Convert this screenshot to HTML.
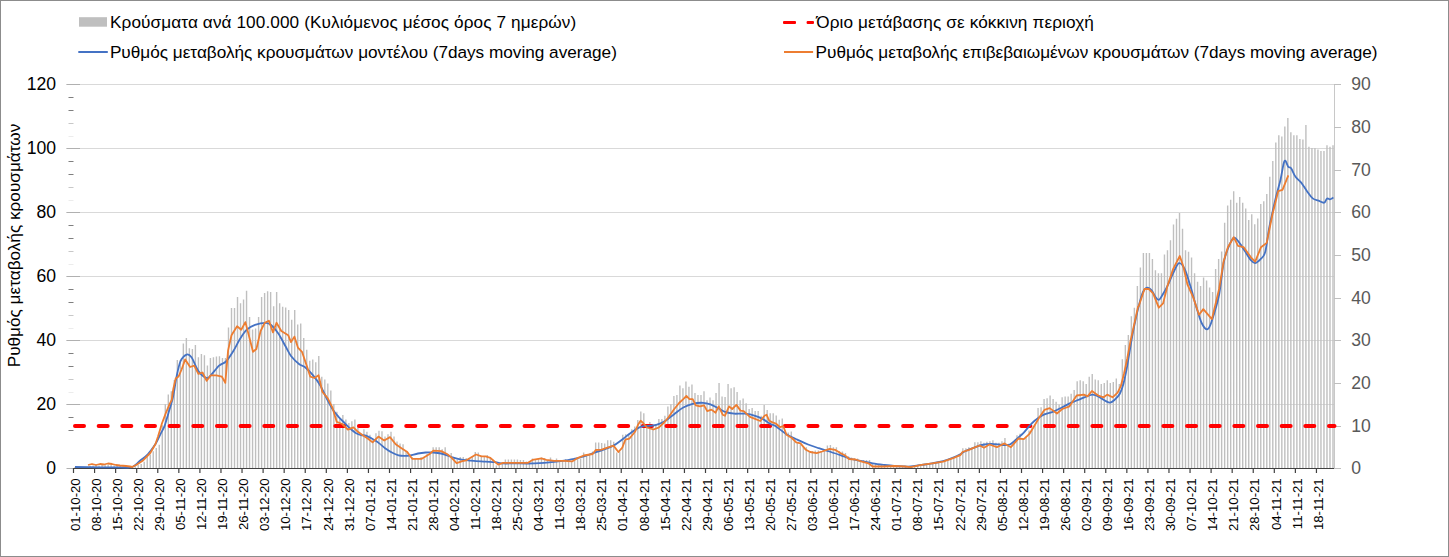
<!DOCTYPE html>
<html><head><meta charset="utf-8"><style>
html,body{margin:0;padding:0;background:#fff}
.frame{position:relative;width:1449px;height:557px;overflow:hidden;background:#fff;}
svg text{font-family:"Liberation Sans",sans-serif}
.t{font-size:17.6px}
.lg{font-size:17.2px;fill:#000}
.xl{font-size:13.2px;fill:#000}
</style></head><body><div class="frame">
<svg width="1449" height="557" viewBox="0 0 1449 557" style="position:absolute;left:0;top:0"><line x1="66.5" y1="404.5" x2="1334.5" y2="404.5" stroke="#d9d9d9" stroke-width="1"/><line x1="66.5" y1="340.5" x2="1334.5" y2="340.5" stroke="#d9d9d9" stroke-width="1"/><line x1="66.5" y1="276.5" x2="1334.5" y2="276.5" stroke="#d9d9d9" stroke-width="1"/><line x1="66.5" y1="212.5" x2="1334.5" y2="212.5" stroke="#d9d9d9" stroke-width="1"/><line x1="66.5" y1="148.5" x2="1334.5" y2="148.5" stroke="#d9d9d9" stroke-width="1"/><line x1="66.5" y1="84.5" x2="1334.5" y2="84.5" stroke="#d9d9d9" stroke-width="1"/><line x1="66.5" y1="468.5" x2="80" y2="468.5" stroke="#b0b0b0" stroke-width="1"/><line x1="66.5" y1="404.5" x2="80" y2="404.5" stroke="#b0b0b0" stroke-width="1"/><line x1="66.5" y1="340.5" x2="80" y2="340.5" stroke="#b0b0b0" stroke-width="1"/><line x1="66.5" y1="276.5" x2="80" y2="276.5" stroke="#b0b0b0" stroke-width="1"/><line x1="66.5" y1="212.5" x2="80" y2="212.5" stroke="#b0b0b0" stroke-width="1"/><line x1="66.5" y1="148.5" x2="80" y2="148.5" stroke="#b0b0b0" stroke-width="1"/><line x1="66.5" y1="84.5" x2="80" y2="84.5" stroke="#b0b0b0" stroke-width="1"/><line x1="68.5" y1="417.5" x2="73.5" y2="417.5" stroke="#7f7f7f" stroke-width="1"/><line x1="68.5" y1="430.5" x2="73.5" y2="430.5" stroke="#7f7f7f" stroke-width="1"/><line x1="68.5" y1="353.5" x2="73.5" y2="353.5" stroke="#7f7f7f" stroke-width="1"/><line x1="68.5" y1="366.5" x2="73.5" y2="366.5" stroke="#7f7f7f" stroke-width="1"/><line x1="68.5" y1="379.5" x2="73.5" y2="379.5" stroke="#c8c8c8" stroke-width="1"/><line x1="68.5" y1="392.5" x2="73.5" y2="392.5" stroke="#ececec" stroke-width="1"/><line x1="68.5" y1="289.5" x2="73.5" y2="289.5" stroke="#7f7f7f" stroke-width="1"/><line x1="68.5" y1="302.5" x2="73.5" y2="302.5" stroke="#7f7f7f" stroke-width="1"/><line x1="68.5" y1="315.5" x2="73.5" y2="315.5" stroke="#c8c8c8" stroke-width="1"/><line x1="68.5" y1="328.5" x2="73.5" y2="328.5" stroke="#ececec" stroke-width="1"/><line x1="68.5" y1="225.5" x2="73.5" y2="225.5" stroke="#7f7f7f" stroke-width="1"/><line x1="68.5" y1="238.5" x2="73.5" y2="238.5" stroke="#7f7f7f" stroke-width="1"/><line x1="68.5" y1="251.5" x2="73.5" y2="251.5" stroke="#c8c8c8" stroke-width="1"/><line x1="68.5" y1="264.5" x2="73.5" y2="264.5" stroke="#ececec" stroke-width="1"/><line x1="68.5" y1="161.5" x2="73.5" y2="161.5" stroke="#7f7f7f" stroke-width="1"/><line x1="68.5" y1="174.5" x2="73.5" y2="174.5" stroke="#7f7f7f" stroke-width="1"/><line x1="68.5" y1="187.5" x2="73.5" y2="187.5" stroke="#c8c8c8" stroke-width="1"/><line x1="68.5" y1="200.5" x2="73.5" y2="200.5" stroke="#ececec" stroke-width="1"/><line x1="68.5" y1="97.5" x2="73.5" y2="97.5" stroke="#7f7f7f" stroke-width="1"/><line x1="68.5" y1="110.5" x2="73.5" y2="110.5" stroke="#7f7f7f" stroke-width="1"/><line x1="68.5" y1="123.5" x2="73.5" y2="123.5" stroke="#c8c8c8" stroke-width="1"/><line x1="68.5" y1="136.5" x2="73.5" y2="136.5" stroke="#ececec" stroke-width="1"/><path d="M74.30 467.0H75.70V468.3H74.30ZM77.31 467.0H78.71V468.3H77.31ZM80.32 467.0H81.72V468.3H80.32ZM83.33 467.0H84.73V468.3H83.33ZM86.34 467.0H87.74V468.3H86.34ZM89.35 466.0H90.75V468.3H89.35ZM92.36 465.5H93.76V468.3H92.36ZM95.37 465.0H96.77V468.3H95.37ZM98.38 465.5H99.78V468.3H98.38ZM101.39 464.5H102.79V468.3H101.39ZM104.40 465.0H105.80V468.3H104.40ZM107.41 464.5H108.81V468.3H107.41ZM110.42 465.0H111.82V468.3H110.42ZM113.43 465.5H114.83V468.3H113.43ZM116.44 466.0H117.84V468.3H116.44ZM119.45 466.0H120.85V468.3H119.45ZM122.46 466.5H123.86V468.3H122.46ZM125.47 466.5H126.87V468.3H125.47ZM128.48 467.0H129.88V468.3H128.48ZM131.49 466.5H132.89V468.3H131.49ZM134.50 466.0H135.90V468.3H134.50ZM137.51 465.0H138.91V468.3H137.51ZM140.51 464.1H141.91V468.3H140.51ZM143.52 461.7H144.92V468.3H143.52ZM146.53 456.9H147.93V468.3H146.53ZM149.54 454.4H150.94V468.3H149.54ZM152.55 451.2H153.95V468.3H152.55ZM155.56 448.0H156.96V468.3H155.56ZM158.57 444.7H159.97V468.3H158.57ZM161.58 425.3H162.98V468.3H161.58ZM164.59 404.3H165.99V468.3H164.59ZM167.60 394.6H169.00V468.3H167.60ZM170.61 391.3H172.01V468.3H170.61ZM173.62 380.0H175.02V468.3H173.62ZM176.63 360.0H178.03V468.3H176.63ZM179.64 360.0H181.04V468.3H179.64ZM182.65 343.5H184.05V468.3H182.65ZM185.66 338.0H187.06V468.3H185.66ZM188.67 348.3H190.07V468.3H188.67ZM191.68 349.0H193.08V468.3H191.68ZM194.69 344.9H196.09V468.3H194.69ZM197.70 357.3H199.10V468.3H197.70ZM200.71 353.9H202.11V468.3H200.71ZM203.72 355.2H205.12V468.3H203.72ZM206.72 365.6H208.12V468.3H206.72ZM209.73 358.0H211.13V468.3H209.73ZM212.74 357.3H214.14V468.3H212.74ZM215.75 356.6H217.15V468.3H215.75ZM218.76 356.2H220.16V468.3H218.76ZM221.77 358.0H223.17V468.3H221.77ZM224.78 358.0H226.18V468.3H224.78ZM227.79 327.5H229.19V468.3H227.79ZM230.80 308.1H232.20V468.3H230.80ZM233.81 308.1H235.21V468.3H233.81ZM236.82 297.0H238.22V468.3H236.82ZM239.83 303.3H241.23V468.3H239.83ZM242.84 299.4H244.24V468.3H242.84ZM245.85 290.7H247.25V468.3H245.85ZM248.86 316.9H250.26V468.3H248.86ZM251.87 329.5H253.27V468.3H251.87ZM254.88 328.5H256.28V468.3H254.88ZM257.89 316.9H259.29V468.3H257.89ZM260.90 297.0H262.30V468.3H260.90ZM263.91 293.1H265.31V468.3H263.91ZM266.92 291.2H268.32V468.3H266.92ZM269.93 292.1H271.33V468.3H269.93ZM272.93 306.2H274.33V468.3H272.93ZM275.94 292.1H277.34V468.3H275.94ZM278.95 303.3H280.35V468.3H278.95ZM281.96 306.7H283.36V468.3H281.96ZM284.97 307.6H286.37V468.3H284.97ZM287.98 310.1H289.38V468.3H287.98ZM290.99 319.8H292.39V468.3H290.99ZM294.00 310.1H295.40V468.3H294.00ZM297.01 324.6H298.41V468.3H297.01ZM300.02 323.6H301.42V468.3H300.02ZM303.03 338.0H304.43V468.3H303.03ZM306.04 349.7H307.44V468.3H306.04ZM309.05 360.8H310.45V468.3H309.05ZM312.06 359.4H313.46V468.3H312.06ZM315.07 362.2H316.47V468.3H315.07ZM318.08 355.9H319.48V468.3H318.08ZM321.09 376.7H322.49V468.3H321.09ZM324.10 379.5H325.50V468.3H324.10ZM327.11 383.4H328.51V468.3H327.11ZM330.12 390.6H331.52V468.3H330.12ZM333.13 404.0H334.53V468.3H333.13ZM336.14 411.7H337.54V468.3H336.14ZM339.14 418.4H340.54V468.3H339.14ZM342.15 415.1H343.55V468.3H342.15ZM345.16 419.5H346.56V468.3H345.16ZM348.17 422.9H349.57V468.3H348.17ZM351.18 421.2H352.58V468.3H351.18ZM354.19 419.5H355.59V468.3H354.19ZM357.20 427.3H358.60V468.3H357.20ZM360.21 433.7H361.61V468.3H360.21ZM363.22 429.3H364.62V468.3H363.22ZM366.23 431.8H367.63V468.3H366.23ZM369.24 434.7H370.64V468.3H369.24ZM372.25 439.5H373.65V468.3H372.25ZM375.26 433.2H376.66V468.3H375.26ZM378.27 430.8H379.67V468.3H378.27ZM381.28 431.3H382.68V468.3H381.28ZM384.29 436.6H385.69V468.3H384.29ZM387.30 434.2H388.70V468.3H387.30ZM390.31 431.8H391.71V468.3H390.31ZM393.32 436.6H394.72V468.3H393.32ZM396.33 441.4H397.73V468.3H396.33ZM399.34 443.4H400.74V468.3H399.34ZM402.35 444.3H403.75V468.3H402.35ZM405.35 451.1H406.75V468.3H405.35ZM408.36 454.0H409.76V468.3H408.36ZM411.37 456.9H412.77V468.3H411.37ZM414.38 458.3H415.78V468.3H414.38ZM417.39 458.3H418.79V468.3H417.39ZM420.40 456.9H421.80V468.3H420.40ZM423.41 458.3H424.81V468.3H423.41ZM426.42 454.0H427.82V468.3H426.42ZM429.43 453.5H430.83V468.3H429.43ZM432.44 447.2H433.84V468.3H432.44ZM435.45 447.2H436.85V468.3H435.45ZM438.46 447.2H439.86V468.3H438.46ZM441.47 449.2H442.87V468.3H441.47ZM444.48 447.2H445.88V468.3H444.48ZM447.49 454.0H448.89V468.3H447.49ZM450.50 453.0H451.90V468.3H450.50ZM453.51 456.9H454.91V468.3H453.51ZM456.52 459.8H457.92V468.3H456.52ZM459.53 456.9H460.93V468.3H459.53ZM462.54 456.9H463.94V468.3H462.54ZM465.55 457.9H466.95V468.3H465.55ZM468.56 458.8H469.96V468.3H468.56ZM471.56 456.9H472.96V468.3H471.56ZM474.57 452.0H475.97V468.3H474.57ZM477.58 452.5H478.98V468.3H477.58ZM480.59 455.9H481.99V468.3H480.59ZM483.60 456.9H485.00V468.3H483.60ZM486.61 455.0H488.01V468.3H486.61ZM489.62 456.9H491.02V468.3H489.62ZM492.63 459.8H494.03V468.3H492.63ZM495.64 465.4H497.04V468.3H495.64ZM498.65 463.4H500.05V468.3H498.65ZM501.66 463.4H503.06V468.3H501.66ZM504.67 459.4H506.07V468.3H504.67ZM507.68 459.4H509.08V468.3H507.68ZM510.69 459.4H512.09V468.3H510.69ZM513.70 459.4H515.10V468.3H513.70ZM516.71 459.4H518.11V468.3H516.71ZM519.72 459.9H521.12V468.3H519.72ZM522.73 459.9H524.13V468.3H522.73ZM525.74 461.4H527.14V468.3H525.74ZM528.75 461.4H530.15V468.3H528.75ZM531.76 458.4H533.16V468.3H531.76ZM534.77 459.4H536.17V468.3H534.77ZM537.77 458.4H539.17V468.3H537.77ZM540.78 457.4H542.18V468.3H540.78ZM543.79 457.9H545.19V468.3H543.79ZM546.80 459.9H548.20V468.3H546.80ZM549.81 457.4H551.21V468.3H549.81ZM552.82 459.9H554.22V468.3H552.82ZM555.83 458.4H557.23V468.3H555.83ZM558.84 461.4H560.24V468.3H558.84ZM561.85 460.9H563.25V468.3H561.85ZM564.86 458.9H566.26V468.3H564.86ZM567.87 460.4H569.27V468.3H567.87ZM570.88 461.4H572.28V468.3H570.88ZM573.89 459.9H575.29V468.3H573.89ZM576.90 458.4H578.30V468.3H576.90ZM579.91 458.4H581.31V468.3H579.91ZM582.92 452.5H584.32V468.3H582.92ZM585.93 455.0H587.33V468.3H585.93ZM588.94 454.0H590.34V468.3H588.94ZM591.95 451.5H593.35V468.3H591.95ZM594.96 442.6H596.36V468.3H594.96ZM597.97 442.6H599.37V468.3H597.97ZM600.98 443.1H602.38V468.3H600.98ZM603.98 443.6H605.38V468.3H603.98ZM606.99 440.2H608.39V468.3H606.99ZM610.00 440.2H611.40V468.3H610.00ZM613.01 441.7H614.41V468.3H613.01ZM616.02 452.5H617.42V468.3H616.02ZM619.03 451.5H620.43V468.3H619.03ZM622.04 434.7H623.44V468.3H622.04ZM625.05 434.2H626.45V468.3H625.05ZM628.06 433.8H629.46V468.3H628.06ZM631.07 429.3H632.47V468.3H631.07ZM634.08 426.4H635.48V468.3H634.08ZM637.09 420.0H638.49V468.3H637.09ZM640.10 411.6H641.50V468.3H640.10ZM643.11 413.2H644.51V468.3H643.11ZM646.12 425.0H647.52V468.3H646.12ZM649.13 422.0H650.53V468.3H649.13ZM652.14 426.2H653.54V468.3H652.14ZM655.15 424.1H656.55V468.3H655.15ZM658.16 418.9H659.56V468.3H658.16ZM661.17 418.9H662.57V468.3H661.17ZM664.18 415.8H665.58V468.3H664.18ZM667.19 406.4H668.59V468.3H667.19ZM670.19 404.3H671.59V468.3H670.19ZM673.20 396.0H674.60V468.3H673.20ZM676.21 395.0H677.61V468.3H676.21ZM679.22 385.6H680.62V468.3H679.22ZM682.23 388.2H683.63V468.3H682.23ZM685.24 381.5H686.64V468.3H685.24ZM688.25 386.7H689.65V468.3H688.25ZM691.26 384.6H692.66V468.3H691.26ZM694.27 392.9H695.67V468.3H694.27ZM697.28 395.0H698.68V468.3H697.28ZM700.29 395.0H701.69V468.3H700.29ZM703.30 391.3H704.70V468.3H703.30ZM706.31 400.2H707.71V468.3H706.31ZM709.32 397.6H710.72V468.3H709.32ZM712.33 400.2H713.73V468.3H712.33ZM715.34 392.9H716.74V468.3H715.34ZM718.35 383.0H719.75V468.3H718.35ZM721.36 396.5H722.76V468.3H721.36ZM724.37 397.1H725.77V468.3H724.37ZM727.38 384.1H728.78V468.3H727.38ZM730.39 388.2H731.79V468.3H730.39ZM733.40 387.2H734.80V468.3H733.40ZM736.41 391.9H737.81V468.3H736.41ZM739.41 400.2H740.81V468.3H739.41ZM742.42 398.6H743.82V468.3H742.42ZM745.43 403.3H746.83V468.3H745.43ZM748.44 409.0H749.84V468.3H748.44ZM751.45 408.0H752.85V468.3H751.45ZM754.46 411.1H755.86V468.3H754.46ZM757.47 411.1H758.87V468.3H757.47ZM760.48 415.8H761.88V468.3H760.48ZM763.49 404.9H764.89V468.3H763.49ZM766.50 410.0H767.90V468.3H766.50ZM769.51 413.2H770.91V468.3H769.51ZM772.52 413.2H773.92V468.3H772.52ZM775.53 415.4H776.93V468.3H775.53ZM778.54 419.7H779.94V468.3H778.54ZM781.55 418.6H782.95V468.3H781.55ZM784.56 430.5H785.96V468.3H784.56ZM787.57 432.6H788.97V468.3H787.57ZM790.58 431.5H791.98V468.3H790.58ZM793.59 439.1H794.99V468.3H793.59ZM796.60 442.3H798.00V468.3H796.60ZM799.61 444.5H801.01V468.3H799.61ZM802.62 446.6H804.02V468.3H802.62ZM805.62 447.2H807.02V468.3H805.62ZM808.63 450.9H810.03V468.3H808.63ZM811.64 450.9H813.04V468.3H811.64ZM814.65 450.4H816.05V468.3H814.65ZM817.66 450.4H819.06V468.3H817.66ZM820.67 450.9H822.07V468.3H820.67ZM823.68 450.4H825.08V468.3H823.68ZM826.69 445.5H828.09V468.3H826.69ZM829.70 445.0H831.10V468.3H829.70ZM832.71 447.2H834.11V468.3H832.71ZM835.72 447.2H837.12V468.3H835.72ZM838.73 450.9H840.13V468.3H838.73ZM841.74 451.5H843.14V468.3H841.74ZM844.75 453.1H846.15V468.3H844.75ZM847.76 456.3H849.16V468.3H847.76ZM850.77 457.4H852.17V468.3H850.77ZM853.78 457.9H855.18V468.3H853.78ZM856.79 458.5H858.19V468.3H856.79ZM859.80 460.1H861.20V468.3H859.80ZM862.81 460.1H864.21V468.3H862.81ZM865.82 460.1H867.22V468.3H865.82ZM868.83 460.1H870.23V468.3H868.83ZM871.83 463.8H873.23V468.3H871.83ZM874.84 463.8H876.24V468.3H874.84ZM877.85 464.5H879.25V468.3H877.85ZM880.86 465.0H882.26V468.3H880.86ZM883.87 465.0H885.27V468.3H883.87ZM886.88 465.5H888.28V468.3H886.88ZM889.89 465.5H891.29V468.3H889.89ZM892.90 466.0H894.30V468.3H892.90ZM895.91 465.5H897.31V468.3H895.91ZM898.92 466.0H900.32V468.3H898.92ZM901.93 466.0H903.33V468.3H901.93ZM904.94 466.0H906.34V468.3H904.94ZM907.95 466.0H909.35V468.3H907.95ZM910.96 466.0H912.36V468.3H910.96ZM913.97 466.0H915.37V468.3H913.97ZM916.98 466.0H918.38V468.3H916.98ZM919.99 464.9H921.39V468.3H919.99ZM923.00 464.4H924.40V468.3H923.00ZM926.01 463.3H927.41V468.3H926.01ZM929.02 463.3H930.42V468.3H929.02ZM932.03 462.8H933.43V468.3H932.03ZM935.04 462.8H936.44V468.3H935.04ZM938.04 462.2H939.44V468.3H938.04ZM941.05 462.8H942.45V468.3H941.05ZM944.06 461.2H945.46V468.3H944.06ZM947.07 459.5H948.47V468.3H947.07ZM950.08 459.5H951.48V468.3H950.08ZM953.09 458.5H954.49V468.3H953.09ZM956.10 457.4H957.50V468.3H956.10ZM959.11 455.8H960.51V468.3H959.11ZM962.12 448.2H963.52V468.3H962.12ZM965.13 448.2H966.53V468.3H965.13ZM968.14 447.2H969.54V468.3H968.14ZM971.15 447.7H972.55V468.3H971.15ZM974.16 442.3H975.56V468.3H974.16ZM977.17 442.3H978.57V468.3H977.17ZM980.18 441.2H981.58V468.3H980.18ZM983.19 442.8H984.59V468.3H983.19ZM986.20 441.8H987.60V468.3H986.20ZM989.21 441.2H990.61V468.3H989.21ZM992.22 440.2H993.62V468.3H992.22ZM995.23 442.8H996.63V468.3H995.23ZM998.24 442.8H999.64V468.3H998.24ZM1001.25 441.2H1002.65V468.3H1001.25ZM1004.25 438.0H1005.65V468.3H1004.25ZM1007.26 444.5H1008.66V468.3H1007.26ZM1010.27 445.5H1011.67V468.3H1010.27ZM1013.28 442.3H1014.68V468.3H1013.28ZM1016.29 435.3H1017.69V468.3H1016.29ZM1019.30 433.7H1020.70V468.3H1019.30ZM1022.31 438.0H1023.71V468.3H1022.31ZM1025.32 436.4H1026.72V468.3H1025.32ZM1028.33 430.5H1029.73V468.3H1028.33ZM1031.34 428.3H1032.74V468.3H1031.34ZM1034.35 424.0H1035.75V468.3H1034.35ZM1037.36 408.1H1038.76V468.3H1037.36ZM1040.37 407.2H1041.77V468.3H1040.37ZM1043.38 399.1H1044.78V468.3H1043.38ZM1046.39 398.2H1047.79V468.3H1046.39ZM1049.40 395.5H1050.80V468.3H1049.40ZM1052.41 399.1H1053.81V468.3H1052.41ZM1055.42 401.8H1056.82V468.3H1055.42ZM1058.43 404.5H1059.83V468.3H1058.43ZM1061.44 397.3H1062.84V468.3H1061.44ZM1064.45 396.4H1065.85V468.3H1064.45ZM1067.46 396.4H1068.86V468.3H1067.46ZM1070.46 393.7H1071.86V468.3H1070.46ZM1073.47 390.1H1074.87V468.3H1073.47ZM1076.48 381.2H1077.88V468.3H1076.48ZM1079.49 380.3H1080.89V468.3H1079.49ZM1082.50 381.2H1083.90V468.3H1082.50ZM1085.51 383.9H1086.91V468.3H1085.51ZM1088.52 376.7H1089.92V468.3H1088.52ZM1091.53 374.0H1092.93V468.3H1091.53ZM1094.54 379.4H1095.94V468.3H1094.54ZM1097.55 380.3H1098.95V468.3H1097.55ZM1100.56 383.9H1101.96V468.3H1100.56ZM1103.57 383.0H1104.97V468.3H1103.57ZM1106.58 380.3H1107.98V468.3H1106.58ZM1109.59 383.0H1110.99V468.3H1109.59ZM1112.60 382.1H1114.00V468.3H1112.60ZM1115.61 378.5H1117.01V468.3H1115.61ZM1118.62 383.9H1120.02V468.3H1118.62ZM1121.63 359.3H1123.03V468.3H1121.63ZM1124.64 345.0H1126.04V468.3H1124.64ZM1127.65 335.0H1129.05V468.3H1127.65ZM1130.66 316.3H1132.06V468.3H1130.66ZM1133.67 307.7H1135.07V468.3H1133.67ZM1136.67 286.1H1138.07V468.3H1136.67ZM1139.68 267.5H1141.08V468.3H1139.68ZM1142.69 253.1H1144.09V468.3H1142.69ZM1145.70 253.1H1147.10V468.3H1145.70ZM1148.71 253.1H1150.11V468.3H1148.71ZM1151.72 258.9H1153.12V468.3H1151.72ZM1154.73 270.3H1156.13V468.3H1154.73ZM1157.74 273.2H1159.14V468.3H1157.74ZM1160.75 273.2H1162.15V468.3H1160.75ZM1163.76 254.6H1165.16V468.3H1163.76ZM1166.77 250.2H1168.17V468.3H1166.77ZM1169.78 240.2H1171.18V468.3H1169.78ZM1172.79 224.4H1174.19V468.3H1172.79ZM1175.80 218.7H1177.20V468.3H1175.80ZM1178.81 212.9H1180.21V468.3H1178.81ZM1181.82 228.7H1183.22V468.3H1181.82ZM1184.83 250.2H1186.23V468.3H1184.83ZM1187.84 251.7H1189.24V468.3H1187.84ZM1190.85 257.4H1192.25V468.3H1190.85ZM1193.86 273.2H1195.26V468.3H1193.86ZM1196.87 281.8H1198.27V468.3H1196.87ZM1199.88 286.1H1201.28V468.3H1199.88ZM1202.88 277.5H1204.28V468.3H1202.88ZM1205.89 280.4H1207.29V468.3H1205.89ZM1208.90 287.6H1210.30V468.3H1208.90ZM1211.91 291.9H1213.31V468.3H1211.91ZM1214.92 268.9H1216.32V468.3H1214.92ZM1217.93 258.9H1219.33V468.3H1217.93ZM1220.94 251.6H1222.34V468.3H1220.94ZM1223.95 222.8H1225.35V468.3H1223.95ZM1226.96 205.6H1228.36V468.3H1226.96ZM1229.97 199.8H1231.37V468.3H1229.97ZM1232.98 191.2H1234.38V468.3H1232.98ZM1235.99 202.7H1237.39V468.3H1235.99ZM1239.00 197.0H1240.40V468.3H1239.00ZM1242.01 202.7H1243.41V468.3H1242.01ZM1245.02 208.4H1246.42V468.3H1245.02ZM1248.03 219.9H1249.43V468.3H1248.03ZM1251.04 214.2H1252.44V468.3H1251.04ZM1254.05 224.3H1255.45V468.3H1254.05ZM1257.06 218.5H1258.46V468.3H1257.06ZM1260.07 204.1H1261.47V468.3H1260.07ZM1263.08 201.3H1264.48V468.3H1263.08ZM1266.09 194.1H1267.49V468.3H1266.09ZM1269.09 176.8H1270.49V468.3H1269.09ZM1272.10 161.0H1273.50V468.3H1272.10ZM1275.11 142.4H1276.51V468.3H1275.11ZM1278.12 135.2H1279.52V468.3H1278.12ZM1281.13 136.6H1282.53V468.3H1281.13ZM1284.14 126.6H1285.54V468.3H1284.14ZM1287.15 117.9H1288.55V468.3H1287.15ZM1290.16 132.3H1291.56V468.3H1290.16ZM1293.17 135.2H1294.57V468.3H1293.17ZM1296.18 135.2H1297.58V468.3H1296.18ZM1299.19 138.9H1300.59V468.3H1299.19ZM1302.20 139.5H1303.60V468.3H1302.20ZM1305.21 125.1H1306.61V468.3H1305.21ZM1308.22 146.7H1309.62V468.3H1308.22ZM1311.23 148.1H1312.63V468.3H1311.23ZM1314.24 148.1H1315.64V468.3H1314.24ZM1317.25 149.5H1318.65V468.3H1317.25ZM1320.26 151.0H1321.66V468.3H1320.26ZM1323.27 151.0H1324.67V468.3H1323.27ZM1326.28 145.2H1327.68V468.3H1326.28ZM1329.29 146.7H1330.69V468.3H1329.29ZM1332.30 145.2H1333.70V468.3H1332.30Z" fill="#bfbfbf"/><line x1="73.5" y1="468.5" x2="1334.5" y2="468.5" stroke="#404040" stroke-width="1"/><line x1="73.50" y1="468" x2="73.50" y2="473" stroke="#404040" stroke-width="1.2"/><line x1="94.57" y1="468" x2="94.57" y2="473" stroke="#404040" stroke-width="1.2"/><line x1="115.63" y1="468" x2="115.63" y2="473" stroke="#404040" stroke-width="1.2"/><line x1="136.70" y1="468" x2="136.70" y2="473" stroke="#404040" stroke-width="1.2"/><line x1="157.77" y1="468" x2="157.77" y2="473" stroke="#404040" stroke-width="1.2"/><line x1="178.83" y1="468" x2="178.83" y2="473" stroke="#404040" stroke-width="1.2"/><line x1="199.90" y1="468" x2="199.90" y2="473" stroke="#404040" stroke-width="1.2"/><line x1="220.97" y1="468" x2="220.97" y2="473" stroke="#404040" stroke-width="1.2"/><line x1="242.03" y1="468" x2="242.03" y2="473" stroke="#404040" stroke-width="1.2"/><line x1="263.10" y1="468" x2="263.10" y2="473" stroke="#404040" stroke-width="1.2"/><line x1="284.17" y1="468" x2="284.17" y2="473" stroke="#404040" stroke-width="1.2"/><line x1="305.24" y1="468" x2="305.24" y2="473" stroke="#404040" stroke-width="1.2"/><line x1="326.30" y1="468" x2="326.30" y2="473" stroke="#404040" stroke-width="1.2"/><line x1="347.37" y1="468" x2="347.37" y2="473" stroke="#404040" stroke-width="1.2"/><line x1="368.44" y1="468" x2="368.44" y2="473" stroke="#404040" stroke-width="1.2"/><line x1="389.50" y1="468" x2="389.50" y2="473" stroke="#404040" stroke-width="1.2"/><line x1="410.57" y1="468" x2="410.57" y2="473" stroke="#404040" stroke-width="1.2"/><line x1="431.64" y1="468" x2="431.64" y2="473" stroke="#404040" stroke-width="1.2"/><line x1="452.70" y1="468" x2="452.70" y2="473" stroke="#404040" stroke-width="1.2"/><line x1="473.77" y1="468" x2="473.77" y2="473" stroke="#404040" stroke-width="1.2"/><line x1="494.84" y1="468" x2="494.84" y2="473" stroke="#404040" stroke-width="1.2"/><line x1="515.90" y1="468" x2="515.90" y2="473" stroke="#404040" stroke-width="1.2"/><line x1="536.97" y1="468" x2="536.97" y2="473" stroke="#404040" stroke-width="1.2"/><line x1="558.04" y1="468" x2="558.04" y2="473" stroke="#404040" stroke-width="1.2"/><line x1="579.10" y1="468" x2="579.10" y2="473" stroke="#404040" stroke-width="1.2"/><line x1="600.17" y1="468" x2="600.17" y2="473" stroke="#404040" stroke-width="1.2"/><line x1="621.24" y1="468" x2="621.24" y2="473" stroke="#404040" stroke-width="1.2"/><line x1="642.30" y1="468" x2="642.30" y2="473" stroke="#404040" stroke-width="1.2"/><line x1="663.37" y1="468" x2="663.37" y2="473" stroke="#404040" stroke-width="1.2"/><line x1="684.44" y1="468" x2="684.44" y2="473" stroke="#404040" stroke-width="1.2"/><line x1="705.50" y1="468" x2="705.50" y2="473" stroke="#404040" stroke-width="1.2"/><line x1="726.57" y1="468" x2="726.57" y2="473" stroke="#404040" stroke-width="1.2"/><line x1="747.64" y1="468" x2="747.64" y2="473" stroke="#404040" stroke-width="1.2"/><line x1="768.71" y1="468" x2="768.71" y2="473" stroke="#404040" stroke-width="1.2"/><line x1="789.77" y1="468" x2="789.77" y2="473" stroke="#404040" stroke-width="1.2"/><line x1="810.84" y1="468" x2="810.84" y2="473" stroke="#404040" stroke-width="1.2"/><line x1="831.91" y1="468" x2="831.91" y2="473" stroke="#404040" stroke-width="1.2"/><line x1="852.97" y1="468" x2="852.97" y2="473" stroke="#404040" stroke-width="1.2"/><line x1="874.04" y1="468" x2="874.04" y2="473" stroke="#404040" stroke-width="1.2"/><line x1="895.11" y1="468" x2="895.11" y2="473" stroke="#404040" stroke-width="1.2"/><line x1="916.17" y1="468" x2="916.17" y2="473" stroke="#404040" stroke-width="1.2"/><line x1="937.24" y1="468" x2="937.24" y2="473" stroke="#404040" stroke-width="1.2"/><line x1="958.31" y1="468" x2="958.31" y2="473" stroke="#404040" stroke-width="1.2"/><line x1="979.37" y1="468" x2="979.37" y2="473" stroke="#404040" stroke-width="1.2"/><line x1="1000.44" y1="468" x2="1000.44" y2="473" stroke="#404040" stroke-width="1.2"/><line x1="1021.51" y1="468" x2="1021.51" y2="473" stroke="#404040" stroke-width="1.2"/><line x1="1042.57" y1="468" x2="1042.57" y2="473" stroke="#404040" stroke-width="1.2"/><line x1="1063.64" y1="468" x2="1063.64" y2="473" stroke="#404040" stroke-width="1.2"/><line x1="1084.71" y1="468" x2="1084.71" y2="473" stroke="#404040" stroke-width="1.2"/><line x1="1105.77" y1="468" x2="1105.77" y2="473" stroke="#404040" stroke-width="1.2"/><line x1="1126.84" y1="468" x2="1126.84" y2="473" stroke="#404040" stroke-width="1.2"/><line x1="1147.91" y1="468" x2="1147.91" y2="473" stroke="#404040" stroke-width="1.2"/><line x1="1168.97" y1="468" x2="1168.97" y2="473" stroke="#404040" stroke-width="1.2"/><line x1="1190.04" y1="468" x2="1190.04" y2="473" stroke="#404040" stroke-width="1.2"/><line x1="1211.11" y1="468" x2="1211.11" y2="473" stroke="#404040" stroke-width="1.2"/><line x1="1232.18" y1="468" x2="1232.18" y2="473" stroke="#404040" stroke-width="1.2"/><line x1="1253.24" y1="468" x2="1253.24" y2="473" stroke="#404040" stroke-width="1.2"/><line x1="1274.31" y1="468" x2="1274.31" y2="473" stroke="#404040" stroke-width="1.2"/><line x1="1295.38" y1="468" x2="1295.38" y2="473" stroke="#404040" stroke-width="1.2"/><line x1="1316.44" y1="468" x2="1316.44" y2="473" stroke="#404040" stroke-width="1.2"/><line x1="1334.5" y1="84.3" x2="1334.5" y2="468" stroke="#c8c8c8" stroke-width="1"/><line x1="1334" y1="468.5" x2="1341" y2="468.5" stroke="#bfbfbf" stroke-width="1"/><line x1="1334" y1="426.5" x2="1341" y2="426.5" stroke="#bfbfbf" stroke-width="1"/><line x1="1334" y1="383.5" x2="1341" y2="383.5" stroke="#bfbfbf" stroke-width="1"/><line x1="1334" y1="340.5" x2="1341" y2="340.5" stroke="#bfbfbf" stroke-width="1"/><line x1="1334" y1="298.5" x2="1341" y2="298.5" stroke="#bfbfbf" stroke-width="1"/><line x1="1334" y1="255.5" x2="1341" y2="255.5" stroke="#bfbfbf" stroke-width="1"/><line x1="1334" y1="212.5" x2="1341" y2="212.5" stroke="#bfbfbf" stroke-width="1"/><line x1="1334" y1="170.5" x2="1341" y2="170.5" stroke="#bfbfbf" stroke-width="1"/><line x1="1334" y1="127.5" x2="1341" y2="127.5" stroke="#bfbfbf" stroke-width="1"/><line x1="1334" y1="84.5" x2="1341" y2="84.5" stroke="#bfbfbf" stroke-width="1"/><line x1="73.5" y1="425.9" x2="1334.5" y2="425.9" stroke="#ff0000" stroke-width="4" stroke-linecap="round" stroke-dasharray="9 14.66" stroke-dashoffset="-1.5"/><path d="M75.0 467.0 C77.2 467.0 82.2 467.1 88.0 467.2 C93.8 467.3 103.3 467.3 110.0 467.4 C116.7 467.4 124.3 467.6 128.0 467.5 C131.7 467.4 130.9 467.5 132.2 467.0 C133.5 466.5 134.7 465.5 136.0 464.5 C137.3 463.5 138.0 462.5 140.0 460.8 C142.0 459.1 145.2 457.1 147.8 454.3 C150.4 451.5 153.3 447.4 155.5 444.0 C157.7 440.6 159.2 436.6 160.7 433.6 C162.2 430.6 163.3 429.3 164.6 425.9 C165.9 422.4 167.2 417.2 168.5 412.9 C169.8 408.6 171.3 404.0 172.3 400.0 C173.3 396.0 173.8 392.7 174.5 389.0 C175.2 385.3 175.3 382.6 176.3 378.0 C177.3 373.4 178.7 365.4 180.4 361.5 C182.1 357.6 184.8 355.3 186.6 354.6 C188.4 353.9 189.5 354.6 191.5 357.3 C193.5 360.1 195.9 367.7 198.4 371.1 C200.9 374.6 204.6 377.3 206.7 378.0 C208.8 378.7 208.7 377.4 210.8 375.3 C212.9 373.2 216.6 367.9 219.1 365.6 C221.6 363.3 223.7 363.8 226.0 361.5 C228.3 359.2 230.6 355.5 232.9 351.8 C235.2 348.1 237.5 343.0 239.8 339.3 C242.1 335.6 244.3 332.1 246.8 329.7 C249.3 327.3 251.8 325.9 255.0 324.8 C258.2 323.7 263.3 322.7 266.1 322.8 C268.9 322.9 269.5 323.7 271.6 325.5 C273.7 327.3 276.2 330.3 278.5 333.8 C280.8 337.3 283.4 342.6 285.5 346.3 C287.6 350.0 288.7 353.0 291.0 356.0 C293.3 359.0 297.0 362.4 299.3 364.2 C301.6 366.0 302.5 365.1 304.8 367.0 C307.1 368.9 310.6 372.3 313.1 375.3 C315.6 378.3 317.6 380.8 320.0 385.0 C322.4 389.2 325.6 396.3 327.8 400.6 C330.0 404.9 331.5 407.8 333.4 410.6 C335.3 413.4 337.1 415.2 339.0 417.3 C340.9 419.4 342.6 421.0 344.5 422.9 C346.4 424.8 348.2 426.8 350.1 428.5 C352.0 430.2 353.9 431.8 355.7 432.9 C357.5 434.0 359.5 434.7 361.2 435.1 C362.9 435.6 363.8 434.9 365.8 435.6 C367.9 436.3 371.2 438.2 373.5 439.5 C375.8 440.8 377.4 441.9 379.3 443.4 C381.2 444.8 383.0 446.7 385.1 448.2 C387.2 449.7 389.6 451.3 391.9 452.5 C394.1 453.7 396.4 454.8 398.6 455.4 C400.9 456.0 403.5 455.9 405.4 455.9 C407.3 455.9 408.1 455.8 410.2 455.4 C412.3 455.0 415.4 454.0 418.0 453.5 C420.6 453.0 423.1 452.7 425.7 452.5 C428.3 452.3 430.8 452.3 433.4 452.5 C436.0 452.7 438.9 453.0 441.2 453.5 C443.5 454.0 445.1 454.8 447.0 455.4 C448.9 456.0 450.6 456.8 452.8 457.4 C455.1 458.0 457.9 458.8 460.5 459.3 C463.1 459.8 465.6 460.0 468.2 460.3 C470.8 460.6 473.1 461.0 476.0 461.2 C478.9 461.4 482.4 461.5 485.6 461.7 C488.8 461.9 492.4 461.9 495.3 462.2 C498.2 462.5 499.7 463.2 502.9 463.4 C506.1 463.6 509.4 463.4 514.7 463.4 C520.0 463.4 527.9 463.6 534.5 463.4 C541.1 463.1 548.5 462.5 554.2 461.9 C560.0 461.3 565.7 460.4 569.0 459.9 C572.3 459.4 571.5 459.5 574.0 458.9 C576.5 458.3 580.5 457.5 583.8 456.5 C587.1 455.5 590.4 454.1 593.7 453.0 C597.0 451.9 600.3 450.8 603.6 449.6 C606.9 448.4 610.2 447.4 613.5 445.6 C616.8 443.8 620.5 440.7 623.3 438.7 C626.0 436.7 627.1 435.5 630.0 433.5 C632.9 431.5 636.7 428.1 640.5 426.8 C644.3 425.5 649.8 426.1 653.0 425.5 C656.2 424.9 657.8 424.3 660.0 423.5 C662.2 422.7 663.5 422.2 666.0 420.5 C668.5 418.8 672.1 415.7 675.0 413.5 C677.9 411.3 680.3 409.1 683.3 407.5 C686.2 405.9 689.4 404.6 692.7 403.8 C696.0 403.0 700.2 402.7 703.1 402.8 C706.0 402.9 707.8 403.4 710.4 404.3 C713.0 405.2 716.1 407.2 718.7 408.5 C721.3 409.8 723.4 411.3 726.0 412.2 C728.6 413.1 731.2 413.4 734.3 413.7 C737.4 413.9 741.2 413.3 744.7 413.7 C748.2 414.1 752.2 414.9 755.1 415.8 C758.0 416.7 759.8 417.5 762.4 418.9 C765.0 420.3 768.5 422.9 770.7 424.1 C772.9 425.3 773.2 424.5 775.8 426.2 C778.4 427.9 782.9 432.0 786.5 434.2 C790.1 436.4 793.7 437.9 797.3 439.6 C800.9 441.3 804.5 443.1 808.1 444.5 C811.7 445.9 815.2 447.0 818.8 448.2 C822.4 449.4 826.0 450.3 829.6 451.5 C833.2 452.7 836.8 453.9 840.4 455.2 C844.0 456.4 847.6 458.0 851.2 459.0 C854.8 460.0 858.3 460.5 861.9 461.2 C865.5 461.9 869.1 462.7 872.7 463.3 C876.3 463.9 879.9 464.4 883.5 464.9 C887.1 465.3 890.6 465.7 894.2 466.0 C897.8 466.3 902.2 466.4 905.0 466.5 C907.8 466.6 908.0 466.8 910.8 466.5 C913.5 466.2 917.9 465.4 921.5 464.9 C925.1 464.4 928.7 463.9 932.3 463.3 C935.9 462.7 939.5 462.2 943.1 461.2 C946.7 460.2 950.9 458.6 953.8 457.4 C956.7 456.2 958.5 455.2 960.3 454.2 C962.1 453.2 962.1 452.7 964.6 451.5 C967.1 450.3 972.5 448.3 975.4 447.2 C978.3 446.1 979.1 445.6 981.8 445.0 C984.5 444.4 988.1 443.9 991.5 443.9 C994.9 443.9 999.2 444.9 1002.3 445.0 C1005.3 445.1 1007.8 445.1 1009.8 444.5 C1011.8 443.9 1012.8 442.4 1014.2 441.2 C1015.7 440.0 1016.9 438.9 1018.5 437.5 C1020.1 436.1 1022.0 434.5 1023.8 432.6 C1025.6 430.7 1027.4 428.2 1029.2 426.2 C1031.0 424.2 1033.0 422.2 1034.6 420.8 C1036.2 419.4 1037.3 418.6 1038.9 417.5 C1040.5 416.4 1042.0 415.4 1044.4 414.4 C1046.8 413.4 1050.3 412.9 1053.3 411.7 C1056.3 410.5 1059.3 408.7 1062.3 407.2 C1065.3 405.7 1068.3 404.0 1071.3 402.7 C1074.3 401.4 1077.3 400.3 1080.3 399.1 C1083.3 397.9 1087.1 396.2 1089.2 395.5 C1091.3 394.8 1091.3 394.5 1092.8 394.6 C1094.3 394.8 1096.1 395.3 1098.2 396.4 C1100.3 397.4 1103.5 399.8 1105.4 400.9 C1107.4 401.9 1108.4 402.8 1109.9 402.7 C1111.4 402.6 1112.8 401.5 1114.4 400.0 C1116.1 398.5 1118.3 396.4 1119.8 393.7 C1121.3 391.0 1122.2 388.2 1123.4 383.9 C1124.6 379.6 1125.3 376.3 1126.9 367.7 C1128.5 359.1 1131.0 342.4 1133.0 332.1 C1135.0 321.9 1137.0 312.9 1138.7 306.2 C1140.4 299.5 1141.6 295.0 1143.0 291.9 C1144.4 288.8 1145.9 287.9 1147.3 287.6 C1148.7 287.4 1150.2 288.7 1151.6 290.4 C1153.0 292.1 1154.7 296.0 1155.9 297.6 C1157.1 299.2 1157.8 300.1 1158.8 299.9 C1159.8 299.7 1160.3 298.5 1161.7 296.2 C1163.1 293.9 1165.5 289.9 1167.4 286.1 C1169.3 282.3 1171.3 277.0 1173.2 273.2 C1175.1 269.4 1177.0 263.9 1178.9 263.2 C1180.8 262.5 1182.7 265.1 1184.6 268.9 C1186.5 272.7 1188.5 279.9 1190.4 286.1 C1192.3 292.3 1194.2 300.0 1196.1 306.2 C1198.0 312.4 1200.0 319.7 1201.9 323.5 C1203.8 327.3 1205.9 329.7 1207.6 329.2 C1209.3 328.7 1210.0 326.4 1211.9 320.6 C1213.8 314.9 1217.1 304.3 1219.1 294.7 C1221.0 285.1 1222.1 270.7 1223.6 263.0 C1225.1 255.3 1226.2 252.9 1227.9 248.7 C1229.6 244.5 1231.8 238.8 1233.7 237.8 C1235.6 236.8 1237.5 240.6 1239.4 242.9 C1241.3 245.2 1243.3 248.7 1245.2 251.6 C1247.1 254.5 1249.2 258.3 1250.9 260.2 C1252.6 262.1 1253.5 263.2 1255.2 263.0 C1256.9 262.8 1259.3 260.6 1261.0 258.7 C1262.7 256.8 1263.9 257.1 1265.3 251.6 C1266.7 246.1 1267.9 234.3 1269.6 225.7 C1271.3 217.1 1273.5 207.5 1275.3 199.8 C1277.1 192.1 1279.0 186.2 1280.5 179.7 C1282.0 173.2 1283.2 163.2 1284.5 161.0 C1285.8 158.8 1287.2 165.6 1288.3 166.8 C1289.4 168.0 1289.9 166.5 1291.1 168.2 C1292.3 169.9 1293.8 174.4 1295.5 176.8 C1297.2 179.2 1299.3 180.2 1301.2 182.6 C1303.1 185.0 1305.1 188.6 1307.0 191.2 C1308.9 193.8 1310.8 196.8 1312.7 198.4 C1314.6 200.0 1316.5 200.0 1318.4 200.7 C1320.3 201.4 1322.8 203.1 1324.2 202.7 C1325.7 202.3 1326.1 199.0 1327.1 198.4 C1328.0 197.8 1328.9 199.5 1329.9 199.3 C1331.0 199.2 1332.8 197.8 1333.4 197.5" fill="none" stroke="#4472c4" stroke-width="1.8" stroke-linejoin="round"/><path d="M88.0 465.0 L92.0 464.0 L96.0 465.0 L100.0 464.0 L104.0 464.5 L108.0 463.5 L112.0 464.0 L116.0 465.0 L120.0 465.5 L126.0 466.0 L130.0 466.5 L132.2 467.0 L137.0 464.5 L142.6 460.8 L150.3 453.0 L155.5 444.0 L158.1 436.2 L162.0 423.3 L165.9 412.9 L169.7 403.9 L171.7 400.0 L173.3 389.0 L175.7 378.4 L178.6 376.4 L181.6 369.5 L185.2 359.4 L190.1 367.0 L194.2 365.6 L198.4 373.9 L202.5 372.5 L206.7 380.8 L210.8 375.3 L216.3 375.3 L221.9 376.7 L225.3 382.9 L228.1 350.4 L231.5 335.2 L237.1 326.2 L241.2 329.7 L245.4 322.1 L249.5 338.0 L253.0 351.8 L256.4 349.0 L260.6 331.0 L264.7 322.8 L268.9 320.7 L273.0 332.4 L276.5 322.8 L281.3 331.0 L288.2 335.2 L291.0 342.1 L294.4 336.6 L297.9 347.6 L302.0 351.8 L307.6 368.4 L310.3 376.7 L314.5 378.0 L318.6 375.3 L322.3 391.7 L327.8 398.4 L332.3 407.3 L336.7 421.8 L342.3 424.0 L347.9 429.6 L353.5 427.3 L357.9 431.8 L362.4 435.1 L367.7 438.5 L372.6 442.4 L378.4 436.6 L384.2 440.5 L390.0 437.1 L395.7 444.3 L401.5 448.2 L407.3 452.1 L412.2 458.8 L421.8 458.8 L429.6 454.0 L433.4 450.6 L441.2 451.1 L447.0 454.0 L450.8 456.9 L456.6 463.2 L462.4 461.2 L466.3 460.3 L476.0 454.5 L481.7 456.4 L485.6 456.4 L490.4 457.9 L495.3 462.2 L498.2 464.6 L502.9 462.9 L514.7 462.9 L527.6 462.9 L532.5 459.9 L541.4 458.4 L546.3 459.9 L554.2 460.9 L564.1 460.9 L572.0 461.4 L576.9 458.4 L583.8 455.5 L589.8 454.5 L592.7 454.0 L595.7 450.0 L601.6 449.6 L607.5 447.6 L613.5 445.6 L618.4 452.0 L622.3 447.6 L625.3 439.7 L629.3 438.7 L635.0 431.8 L638.0 424.8 L640.6 420.8 L643.2 423.0 L646.8 427.5 L653.5 429.5 L659.0 427.3 L664.6 422.0 L668.7 417.0 L673.9 409.5 L679.1 403.0 L683.3 399.1 L686.4 396.0 L689.5 399.1 L692.7 399.1 L695.8 405.4 L700.0 406.4 L704.1 405.4 L707.2 411.1 L711.4 409.6 L715.6 412.7 L718.7 406.4 L722.8 414.8 L724.9 415.8 L729.1 406.4 L732.2 409.0 L736.4 404.9 L740.5 410.6 L743.7 411.1 L749.9 416.8 L755.1 418.9 L760.3 421.0 L764.5 415.8 L766.6 414.8 L769.3 420.8 L772.5 422.4 L775.8 423.5 L780.1 427.2 L783.3 426.2 L786.5 434.8 L791.9 438.0 L796.2 442.3 L800.5 443.4 L805.9 449.8 L810.2 452.0 L816.7 453.1 L822.1 451.5 L829.6 448.8 L835.0 449.8 L840.4 453.1 L844.7 455.2 L849.0 459.0 L855.5 459.5 L861.9 461.7 L868.4 463.3 L872.7 466.5 L883.5 466.5 L894.2 466.0 L905.0 466.5 L910.8 467.1 L921.5 464.9 L932.3 463.3 L943.1 461.7 L953.8 457.9 L960.3 455.2 L962.5 452.0 L968.9 449.8 L975.4 447.2 L979.7 445.5 L984.0 447.7 L989.4 444.5 L996.9 447.2 L1004.5 443.4 L1010.9 447.2 L1018.5 438.5 L1023.8 439.1 L1029.2 434.2 L1033.5 427.2 L1038.9 418.1 L1044.4 409.9 L1049.7 408.1 L1056.9 413.5 L1062.3 409.0 L1069.5 406.3 L1076.7 395.5 L1083.9 394.6 L1087.5 396.4 L1091.9 391.0 L1098.2 395.5 L1103.6 397.3 L1107.2 394.6 L1112.6 397.3 L1117.6 392.7 L1120.8 386.2 L1124.1 373.3 L1127.3 358.2 L1130.5 341.0 L1134.8 321.6 L1138.1 306.5 L1138.7 306.2 L1144.5 289.0 L1148.8 289.0 L1153.1 293.3 L1158.8 307.7 L1163.1 303.4 L1167.4 286.1 L1173.2 268.9 L1179.8 256.0 L1183.2 266.0 L1187.5 284.7 L1193.3 297.6 L1199.0 314.8 L1203.3 309.1 L1211.9 319.1 L1219.1 289.0 L1223.6 261.6 L1227.9 247.2 L1233.7 237.2 L1238.0 245.8 L1243.7 247.2 L1250.9 257.3 L1255.2 261.6 L1261.0 247.2 L1266.7 242.9 L1272.5 214.2 L1278.2 191.2 L1282.5 189.8 L1285.4 182.6 L1288.3 175.4" fill="none" stroke="#ed7d31" stroke-width="1.8" stroke-linejoin="round"/><text x="56" y="474.4" text-anchor="end" class="t" fill="#000">0</text><text x="56" y="410.4" text-anchor="end" class="t" fill="#000">20</text><text x="56" y="346.4" text-anchor="end" class="t" fill="#000">40</text><text x="56" y="282.4" text-anchor="end" class="t" fill="#000">60</text><text x="56" y="218.4" text-anchor="end" class="t" fill="#000">80</text><text x="56" y="154.4" text-anchor="end" class="t" fill="#000">100</text><text x="56" y="90.4" text-anchor="end" class="t" fill="#000">120</text><text x="1351.2" y="474.4" class="t" fill="#595959">0</text><text x="1351.2" y="431.7" class="t" fill="#595959">10</text><text x="1351.2" y="389.1" class="t" fill="#595959">20</text><text x="1351.2" y="346.4" class="t" fill="#595959">30</text><text x="1351.2" y="303.7" class="t" fill="#595959">40</text><text x="1351.2" y="261.1" class="t" fill="#595959">50</text><text x="1351.2" y="218.4" class="t" fill="#595959">60</text><text x="1351.2" y="175.7" class="t" fill="#595959">70</text><text x="1351.2" y="133.1" class="t" fill="#595959">80</text><text x="1351.2" y="90.4" class="t" fill="#595959">90</text><text transform="translate(20,245.5) rotate(-90)" text-anchor="middle" class="t" style="font-size:17.2px" fill="#000">Ρυθμός μεταβολής κρουσμάτων</text><text transform="translate(79.70,478.3) rotate(-90)" text-anchor="end" class="xl">01-10-20</text><text transform="translate(100.77,478.3) rotate(-90)" text-anchor="end" class="xl">08-10-20</text><text transform="translate(121.84,478.3) rotate(-90)" text-anchor="end" class="xl">15-10-20</text><text transform="translate(142.91,478.3) rotate(-90)" text-anchor="end" class="xl">22-10-20</text><text transform="translate(163.97,478.3) rotate(-90)" text-anchor="end" class="xl">29-10-20</text><text transform="translate(185.04,478.3) rotate(-90)" text-anchor="end" class="xl">05-11-20</text><text transform="translate(206.11,478.3) rotate(-90)" text-anchor="end" class="xl">12-11-20</text><text transform="translate(227.17,478.3) rotate(-90)" text-anchor="end" class="xl">19-11-20</text><text transform="translate(248.24,478.3) rotate(-90)" text-anchor="end" class="xl">26-11-20</text><text transform="translate(269.31,478.3) rotate(-90)" text-anchor="end" class="xl">03-12-20</text><text transform="translate(290.37,478.3) rotate(-90)" text-anchor="end" class="xl">10-12-20</text><text transform="translate(311.44,478.3) rotate(-90)" text-anchor="end" class="xl">17-12-20</text><text transform="translate(332.51,478.3) rotate(-90)" text-anchor="end" class="xl">24-12-20</text><text transform="translate(353.57,478.3) rotate(-90)" text-anchor="end" class="xl">31-12-20</text><text transform="translate(374.64,478.3) rotate(-90)" text-anchor="end" class="xl">07-01-21</text><text transform="translate(395.71,478.3) rotate(-90)" text-anchor="end" class="xl">14-01-21</text><text transform="translate(416.77,478.3) rotate(-90)" text-anchor="end" class="xl">21-01-21</text><text transform="translate(437.84,478.3) rotate(-90)" text-anchor="end" class="xl">28-01-21</text><text transform="translate(458.91,478.3) rotate(-90)" text-anchor="end" class="xl">04-02-21</text><text transform="translate(479.97,478.3) rotate(-90)" text-anchor="end" class="xl">11-02-21</text><text transform="translate(501.04,478.3) rotate(-90)" text-anchor="end" class="xl">18-02-21</text><text transform="translate(522.11,478.3) rotate(-90)" text-anchor="end" class="xl">25-02-21</text><text transform="translate(543.17,478.3) rotate(-90)" text-anchor="end" class="xl">04-03-21</text><text transform="translate(564.24,478.3) rotate(-90)" text-anchor="end" class="xl">11-03-21</text><text transform="translate(585.31,478.3) rotate(-90)" text-anchor="end" class="xl">18-03-21</text><text transform="translate(606.38,478.3) rotate(-90)" text-anchor="end" class="xl">25-03-21</text><text transform="translate(627.44,478.3) rotate(-90)" text-anchor="end" class="xl">01-04-21</text><text transform="translate(648.51,478.3) rotate(-90)" text-anchor="end" class="xl">08-04-21</text><text transform="translate(669.58,478.3) rotate(-90)" text-anchor="end" class="xl">15-04-21</text><text transform="translate(690.64,478.3) rotate(-90)" text-anchor="end" class="xl">22-04-21</text><text transform="translate(711.71,478.3) rotate(-90)" text-anchor="end" class="xl">29-04-21</text><text transform="translate(732.78,478.3) rotate(-90)" text-anchor="end" class="xl">06-05-21</text><text transform="translate(753.84,478.3) rotate(-90)" text-anchor="end" class="xl">13-05-21</text><text transform="translate(774.91,478.3) rotate(-90)" text-anchor="end" class="xl">20-05-21</text><text transform="translate(795.98,478.3) rotate(-90)" text-anchor="end" class="xl">27-05-21</text><text transform="translate(817.04,478.3) rotate(-90)" text-anchor="end" class="xl">03-06-21</text><text transform="translate(838.11,478.3) rotate(-90)" text-anchor="end" class="xl">10-06-21</text><text transform="translate(859.18,478.3) rotate(-90)" text-anchor="end" class="xl">17-06-21</text><text transform="translate(880.24,478.3) rotate(-90)" text-anchor="end" class="xl">24-06-21</text><text transform="translate(901.31,478.3) rotate(-90)" text-anchor="end" class="xl">01-07-21</text><text transform="translate(922.38,478.3) rotate(-90)" text-anchor="end" class="xl">08-07-21</text><text transform="translate(943.44,478.3) rotate(-90)" text-anchor="end" class="xl">15-07-21</text><text transform="translate(964.51,478.3) rotate(-90)" text-anchor="end" class="xl">22-07-21</text><text transform="translate(985.58,478.3) rotate(-90)" text-anchor="end" class="xl">29-07-21</text><text transform="translate(1006.65,478.3) rotate(-90)" text-anchor="end" class="xl">05-08-21</text><text transform="translate(1027.71,478.3) rotate(-90)" text-anchor="end" class="xl">12-08-21</text><text transform="translate(1048.78,478.3) rotate(-90)" text-anchor="end" class="xl">19-08-21</text><text transform="translate(1069.85,478.3) rotate(-90)" text-anchor="end" class="xl">26-08-21</text><text transform="translate(1090.91,478.3) rotate(-90)" text-anchor="end" class="xl">02-09-21</text><text transform="translate(1111.98,478.3) rotate(-90)" text-anchor="end" class="xl">09-09-21</text><text transform="translate(1133.05,478.3) rotate(-90)" text-anchor="end" class="xl">16-09-21</text><text transform="translate(1154.11,478.3) rotate(-90)" text-anchor="end" class="xl">23-09-21</text><text transform="translate(1175.18,478.3) rotate(-90)" text-anchor="end" class="xl">30-09-21</text><text transform="translate(1196.25,478.3) rotate(-90)" text-anchor="end" class="xl">07-10-21</text><text transform="translate(1217.31,478.3) rotate(-90)" text-anchor="end" class="xl">14-10-21</text><text transform="translate(1238.38,478.3) rotate(-90)" text-anchor="end" class="xl">21-10-21</text><text transform="translate(1259.45,478.3) rotate(-90)" text-anchor="end" class="xl">28-10-21</text><text transform="translate(1280.51,478.3) rotate(-90)" text-anchor="end" class="xl">04-11-21</text><text transform="translate(1301.58,478.3) rotate(-90)" text-anchor="end" class="xl">11-11-21</text><text transform="translate(1322.65,478.3) rotate(-90)" text-anchor="end" class="xl">18-11-21</text><rect x="79" y="17.2" width="28" height="9.5" fill="#bfbfbf"/><line x1="78.3" y1="52" x2="107.8" y2="52" stroke="#4472c4" stroke-width="2"/><rect x="783" y="20.9" width="13" height="3.2" rx="1" fill="#ff0000"/><rect x="806.6" y="20.9" width="7.4" height="3.2" rx="1" fill="#ff0000"/><line x1="784" y1="52" x2="813.1" y2="52" stroke="#ed7d31" stroke-width="2"/><text x="110.0" y="27.6" class="lg" textLength="466.2" lengthAdjust="spacing">Κρούσματα ανά 100.000 (Κυλιόμενος μέσος όρος 7 ημερών)</text><text x="109.9" y="57.6" class="lg" textLength="507.0" lengthAdjust="spacing">Ρυθμός μεταβολής κρουσμάτων μοντέλου (7days moving average)</text><text x="816.3" y="27.6" class="lg" textLength="277.6" lengthAdjust="spacing">Όριο μετάβασης σε κόκκινη περιοχή</text><text x="815.6" y="57.6" class="lg" textLength="562.0" lengthAdjust="spacing">Ρυθμός μεταβολής επιβεβαιωμένων κρουσμάτων (7days moving average)</text><rect x="0.5" y="0.5" width="1448" height="556" fill="none" stroke="#8c8c8c" stroke-width="1"/></svg>
</div></body></html>
